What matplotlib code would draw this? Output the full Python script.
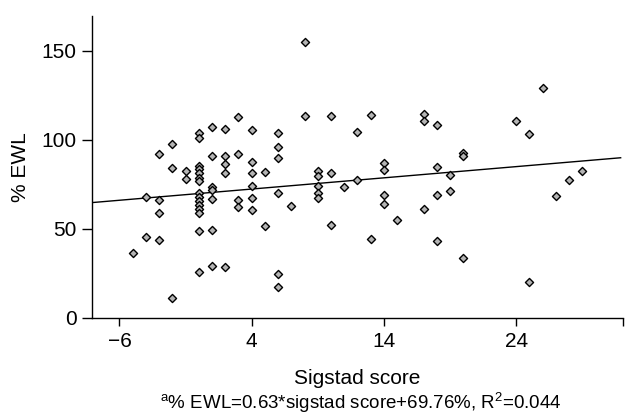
import matplotlib
matplotlib.use("Agg")
import matplotlib.pyplot as plt
import numpy as np

plt.rcParams['font.family'] = ['Liberation Sans', 'DejaVu Sans']
plt.rcParams['mathtext.fontset'] = 'custom'
plt.rcParams['mathtext.rm'] = 'Liberation Sans'
plt.rcParams['mathtext.it'] = 'Liberation Sans'

# Sigstad score (x) and %EWL (y)
sigstad = [-5,
           -4, -4,
           -3, -3, -3, -3,
           -2, -2, -2,
           -1, -1,
           0, 0, 0, 0, 0, 0, 0, 0, 0, 0, 0, 0, 0, 0, 0,
           1, 1, 1, 1, 1, 1, 1,
           2, 2, 2, 2, 2,
           3, 3, 3, 3,
           4, 4, 4, 4, 4, 4,
           5, 5,
           6, 6, 6, 6, 6, 6,
           7,
           8, 8,
           9, 9, 9, 9, 9,
           10, 10, 10,
           11,
           12, 12,
           13, 13,
           14, 14, 14, 14,
           15,
           17, 17, 17,
           18, 18, 18, 18,
           19, 19,
           20, 20, 20,
           24,
           25, 25,
           26,
           27,
           28,
           29]
ewl = [36.5,
       68.0, 45.3,
       92.0, 66.0, 58.6, 43.5,
       97.6, 84.3, 11.2,
       82.4, 77.7,
       103.6, 100.8, 85.4, 83.5, 81.5, 78.5, 77.0, 69.9, 68.0, 65.7, 63.3, 60.9, 58.6, 48.7, 25.7,
       107.3, 91.0, 73.3, 71.5, 66.7, 49.3, 29.2,
       106.0, 91.0, 86.2, 81.5, 28.3,
       112.6, 91.7, 66.1, 62.4,
       105.4, 87.3, 81.3, 74.0, 67.1, 60.7,
       82.0, 51.3,
       103.8, 96.1, 90.0, 70.2, 24.7, 17.4,
       62.8,
       154.7, 113.1,
       82.6, 79.4, 73.8, 70.2, 67.4,
       113.3, 81.5, 52.1,
       73.6,
       104.5, 77.3,
       113.7, 44.0,
       87.1, 83.2, 68.9, 64.0,
       54.9,
       114.4, 110.5, 61.1,
       108.1, 84.8, 69.1, 43.3,
       79.9, 71.2,
       92.7, 90.8, 33.7,
       110.3,
       103.4, 19.9,
       128.9,
       68.2,
       77.6,
       82.3]

slope = 0.63
intercept = 69.76
x_ticks = [-6, 4, 14, 24]
y_ticks = [0, 50, 100, 150]
x_range = (-8.1, 32.1)
y_range = (0, 169.5)

fig = plt.figure(figsize=(6.25, 4.16), dpi=100)
ax = fig.add_axes([91.7 / 625, 98.3 / 416, (623.3 - 91.7) / 625, (317.7 - 16) / 416])

ax.scatter(sigstad, ewl, marker='D', s=17, facecolor='#b4b4b4', edgecolor='black',
           linewidths=1.0, zorder=3, clip_on=False)

xl = np.array([x_range[0], x_range[1] - 0.2])
ax.plot(xl, slope * xl + intercept, color='black', lw=1.0, zorder=2)

ax.set_xlim(*x_range)
ax.set_ylim(*y_range)
ax.set_xticks(x_ticks)
ax.set_yticks(y_ticks)
ax.set_xticks([x_range[1]], minor=True)
ax.tick_params(axis='x', which='minor', length=6, width=1)
for s in ['top', 'right']:
    ax.spines[s].set_visible(False)
for s in ['left', 'bottom']:
    ax.spines[s].set_linewidth(1.0)
ax.tick_params(axis='x', which='major', length=6, width=1, pad=4, labelsize=15)
ax.tick_params(axis='y', length=7, width=1, pad=4, labelsize=15)

ax.set_xlabel('Sigstad score', fontsize=15, labelpad=13)
ax.set_ylabel('% EWL', fontsize=15, labelpad=8)

fig.text(361 / 625, 1 - 403 / 416,
         r'$^{\mathrm{a}}$% EWL=0.63*sigstad score+69.76%, R$^{\mathrm{2}}$=0.044',
         ha='center', va='center', fontsize=13.5)

fig.savefig('out.png', dpi=100)
